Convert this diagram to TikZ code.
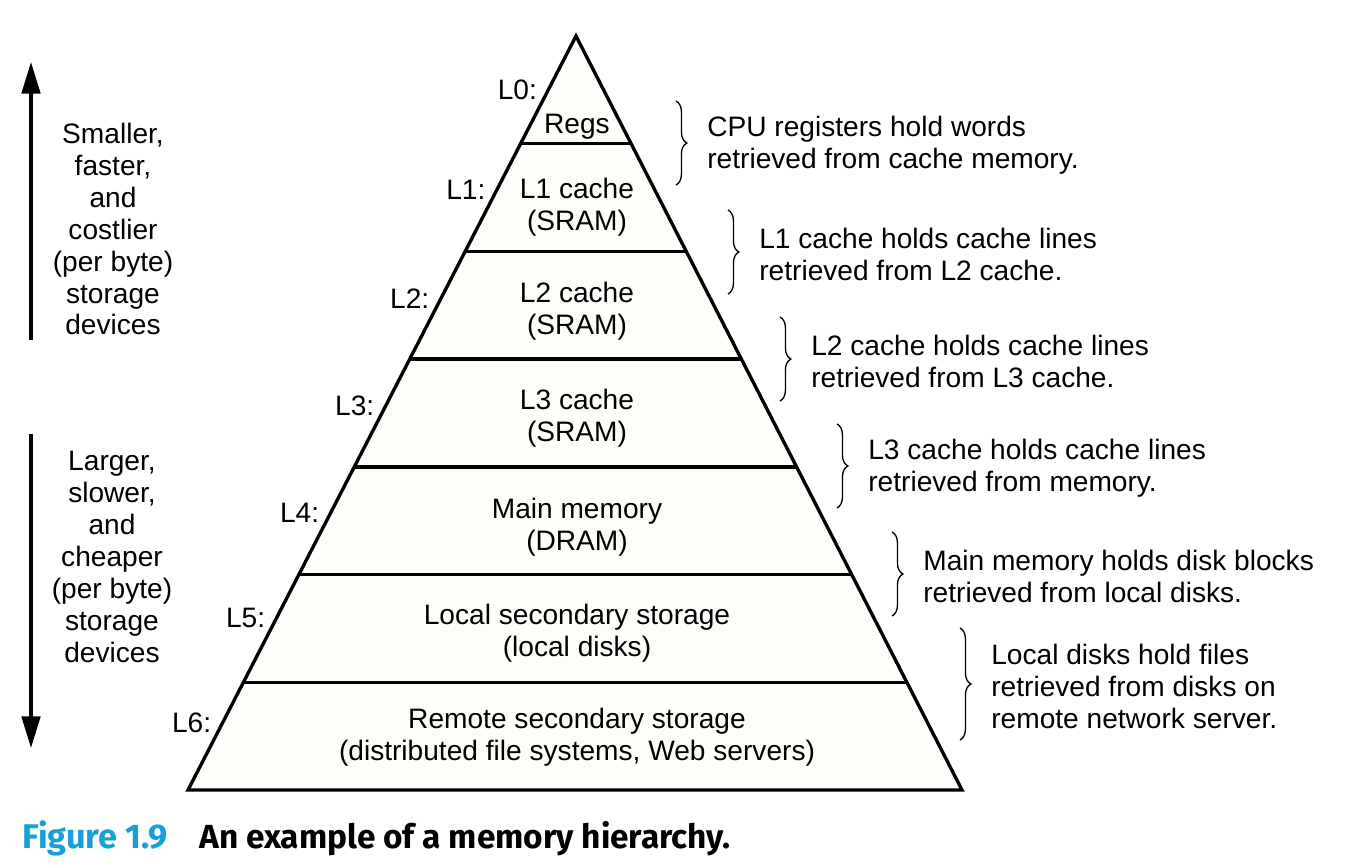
\documentclass[tikz,border=0pt]{standalone}
\usepackage{fontspec}
\setmainfont{Liberation Sans}
\newfontfamily\capfont{Fira Sans}
\usetikzlibrary{calc,arrows.meta,decorations.pathreplacing}
\definecolor{figblue}{RGB}{24,160,214}
\definecolor{pyrfill}{RGB}{253,253,250}
\tikzset{
  pyr/.style={draw, line width=1.9pt, fill=pyrfill},
  levelline/.style={line width=1.9pt},
  txt/.style={font=\fontsize{16}{18.2}\selectfont, align=center, inner sep=0pt},
  note/.style={txt, align=left, anchor=west},
  lvl/.style={font=\fontsize{16}{18.2}\selectfont, anchor=east, inner sep=0pt},
  hold/.style={decorate, decoration={brace, amplitude=6.2pt}, line width=0.75pt},
  trend/.style={line width=2pt, -{Triangle[length=18pt,width=10.5pt]}}
}
\begin{document}
\begin{tikzpicture}[x=0.02cm, y=-0.02cm]
\useasboundingbox (0,0) rectangle (1360,866);

% === Pyramid ===
\coordinate (apex) at (576,36);
\coordinate (baseL) at (188,790);
\coordinate (baseR) at (962,790);
\fill[pyrfill] (apex) -- (baseL) -- (baseR) -- cycle;
\foreach \k in {1,...,6}{
  \draw[levelline] ($(apex)!{\k/7}!(baseL)$) -- ($(apex)!{\k/7}!(baseR)$);
}
\draw[line width=1.9pt] (apex) -- (baseL) -- (baseR) -- cycle;

% === Levels ===
\node[txt] (Level-0) at (577,127) {Regs};
\node[txt] (Level-1) at (577,207) {L1 cache\\(SRAM)};
\node[txt] (Level-2) at (577,311) {L2 cache\\(SRAM)};
\node[txt] (Level-3) at (577,418) {L3 cache\\(SRAM)};
\node[txt] (Level-4) at (577,527) {Main memory\\(DRAM)};
\node[txt] (Level-5) at (577,633) {Local secondary storage\\(local disks)};
\node[txt] (Level-6) at (577,737) {Remote secondary storage\\(distributed file systems, Web servers)};

% === Level labels ===
\foreach \i/\y in {0/90,1/190,2/299,3/406,4/513,5/618,6/723}{
  \pgfmathsetmacro\lx{576-0.5146*(\y-36)-11}
  \node[lvl] (Tag-\i) at (\lx,\y) {L\i:};
}

% === Notes ===
\node[note] (Note-0) at (707,145) {CPU registers hold words\\retrieved from cache memory.};
\node[note] (Note-1) at (759,254) {L1 cache holds cache lines\\retrieved from L2 cache.};
\node[note] (Note-2) at (811,361) {L2 cache holds cache lines\\retrieved from L3 cache.};
\node[note] (Note-3) at (868,468) {L3 cache holds cache lines\\retrieved from memory.};
\node[note] (Note-4) at (923,576) {Main memory holds disk blocks\\retrieved from local disks.};
\node[note] (Note-5) at (991,686) {Local disks hold files\\retrieved from disks on\\remote network server.};

% === Braces ===
\foreach \i/\h in {0/42,1/42,2/42,3/42,4/42,5/56}{
  \draw[hold] ($(Note-\i.west)+(-31,-\h-2)$) -- ($(Note-\i.west)+(-31,\h-2)$);
}

% === Trend arrows ===
\coordinate (up-start) at (31,340);
\coordinate (up-end) at (31,62);
\coordinate (down-start) at (31,434);
\coordinate (down-end) at (31,748);
\draw[trend] (up-start) -- (up-end);
\draw[trend] (down-start) -- (down-end);
\node[txt] (Upper) at (113,229) {Smaller,\\faster,\\and\\costlier\\(per byte)\\storage\\devices};
\node[txt] (Lower) at (112,557) {Larger,\\slower,\\and\\cheaper\\(per byte)\\storage\\devices};

% === Caption ===
\node[anchor=base west, inner sep=0pt, font=\capfont\bfseries\fontsize{19.5}{22}\selectfont, text=figblue] (Fig) at (22,848) {Figure 1.9};
\node[anchor=base west, inner sep=0pt, font=\capfont\bfseries\fontsize{19}{22}\selectfont] (Caption) at (199,848) {An example of a memory hierarchy.};
\end{tikzpicture}
\end{document}
